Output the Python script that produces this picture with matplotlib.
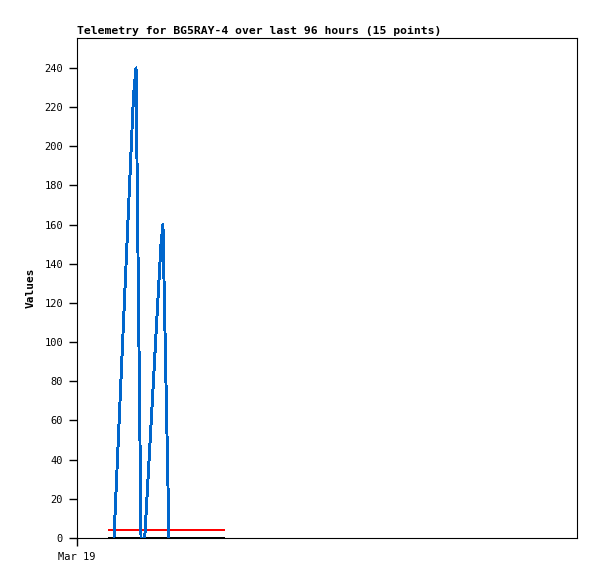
import matplotlib
matplotlib.use("Agg")
import matplotlib.pyplot as plt

# hours since Mar 19 00:00
blue_t = [7.1, 10.85, 11.33, 12.29, 13.0, 16.13, 16.5, 17.66]
blue_v = [0, 226, 240, 0, 0, 150, 160, 0]
red_t = [6.14, 28.2]
red_v = [4, 4]
black_t = [6.14, 28.2]
black_v = [0, 0]

yticks = list(range(0, 241, 20))
xtick_pos = [0]
xtick_lab = ["Mar 19"]

plt.rcParams['font.family'] = ['DejaVu Sans Mono']
plt.rcParams['font.size'] = 7.5

fig = plt.figure(figsize=(5.97, 5.79), dpi=100)
ax = fig.add_axes([77/597, 41/579, 500/597, 500/579])

ax.plot(black_t, black_v, color="black", lw=1.4, antialiased=False)
ax.plot(red_t, red_v, color="#ff0000", lw=1.4, antialiased=False)
ax.plot(blue_t, blue_v, color="#0066cc", lw=1.4, antialiased=False)

ax.set_xlim(0, 96)
ax.set_ylim(0, 255.3)
ax.set_yticks(yticks)
ax.set_xticks(xtick_pos)
ax.set_xticklabels(xtick_lab)
ax.tick_params(direction="out", length=6, width=1, pad=4)
ax.set_ylabel("Values", fontweight="bold", fontsize=8, labelpad=6)
ax.set_title("Telemetry for BG5RAY-4 over last 96 hours (15 points)",
             loc="left", fontweight="bold", fontsize=8.2, pad=3)
for s in ax.spines.values():
    s.set_linewidth(0.8)

fig.savefig("out.png", dpi=100)
